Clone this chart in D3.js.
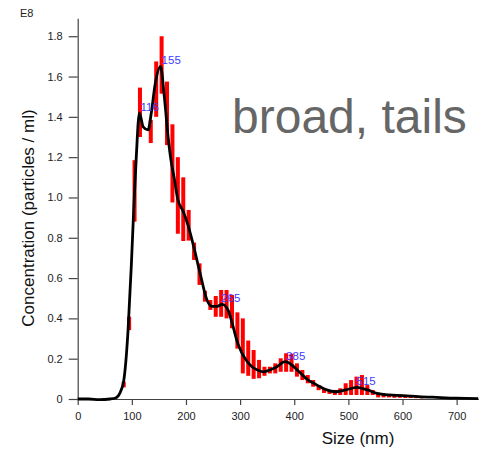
<!DOCTYPE html>
<html>
<head>
<meta charset="utf-8">
<script src="https://cdn.jsdelivr.net/npm/d3@7/dist/d3.min.js"></script>
<style>
  body { margin: 0; background: #fff; }
  svg { font-family: 'Liberation Sans', Arial, sans-serif; }
</style>
</head>
<body>
<svg id="chart" width="487" height="455"></svg>
<script>
// bin centres (nm) and red bar ranges (x1e8 particles / ml)
var binSize = [85, 95, 105, 115, 125, 135, 145, 155, 165, 175, 185, 195, 205, 215, 225, 235, 245, 255,
  265, 275, 285, 295, 305, 315, 325, 335, 345, 355, 365, 375, 385, 395, 405, 415, 425, 435, 445, 455,
  465, 475, 485, 495, 505, 515, 525, 535, 545, 555, 565, 575, 585, 595, 605, 615, 625, 635]
var barLow = [0.058, 0.342, 0.88, 1.30, 1.34, 1.27, 1.40, 1.515, 1.26, 0.975, 0.82, 0.784, 0.786, 0.69, 0.566, 0.483, 0.442, 0.408,
  0.408, 0.40, 0.351, 0.25, 0.127, 0.115, 0.10, 0.103, 0.115, 0.127, 0.127, 0.135, 0.135, 0.135, 0.111, 0.094, 0.078, 0.061, 0.044, 0.03,
  0.025, 0.02, 0.02, 0.02, 0.02, 0.02, 0.02, 0.02, 0.02, 0.008, 0.008, 0.008, 0.006, 0.006, 0.005, 0.005, 0.004, 0.003]
var barHigh = [0.086, 0.408, 1.185, 1.545, 1.34, 1.385, 1.675, 1.80, 1.575, 1.363, 1.20, 1.10, 0.938, 0.776, 0.673, 0.537, 0.491, 0.511,
  0.541, 0.541, 0.516, 0.43, 0.40, 0.29, 0.243, 0.194, 0.16, 0.16, 0.177, 0.202, 0.227, 0.225, 0.177, 0.144, 0.119, 0.094, 0.069, 0.05,
  0.04, 0.045, 0.053, 0.078, 0.094, 0.111, 0.119, 0.069, 0.045, 0.03, 0.025, 0.022, 0.022, 0.02, 0.02, 0.018, 0.015, 0.01]

// black mean curve
var curveSize = [0, 20, 40, 60, 70, 78, 85, 93, 99, 104, 108, 114, 121, 130, 136, 143, 153, 160, 167, 172, 178, 185,
  195, 204, 213, 226, 239, 248, 258, 267, 278, 286, 294, 303, 312, 322, 331, 343, 356, 368, 383, 395, 405, 411,
  425, 435, 447, 460, 476, 495, 516, 535, 553, 575, 601, 630, 663, 700, 740]
var curveConc = [0, 0, -0.003, 0, 0.005, 0.03, 0.09, 0.34, 0.66, 0.97, 1.19, 1.42, 1.35, 1.335, 1.42, 1.56, 1.65, 1.5, 1.3, 1.19, 1.1, 0.99,
  0.93, 0.86, 0.77, 0.625, 0.49, 0.46, 0.46, 0.47, 0.44, 0.37, 0.29, 0.23, 0.19, 0.16, 0.145, 0.135, 0.145, 0.16, 0.185, 0.17, 0.145, 0.13,
  0.095, 0.08, 0.062, 0.045, 0.036, 0.045, 0.058, 0.045, 0.028, 0.02, 0.017, 0.012, 0.008, 0.004, 0.002]

var peakSize = [116, 155, 265, 385, 515]
var peakConc = [1.42, 1.65, 0.47, 0.185, 0.058]

var xTicks = [0, 100, 200, 300, 400, 500, 600, 700]
var yTicks = [0, 0.2, 0.4, 0.6, 0.8, 1.0, 1.2, 1.4, 1.6, 1.8]

var svg = d3.select('#chart')

var x = d3.scaleLinear().domain([0, 740]).range([77.7, 478.3])
var y = d3.scaleLinear().domain([0, 1.889]).range([399, 18.3])

var xAxis = d3.axisBottom(x).tickValues(xTicks).tickSize(6).tickSizeOuter(0).tickPadding(7)
var yAxis = d3.axisLeft(y).tickValues(yTicks).tickSize(9).tickSizeOuter(0).tickPadding(6)
  .tickFormat(d => d === 0 ? '0' : d.toFixed(1))

svg.append('g')
    .attr('class', 'x axis')
    .attr('transform', 'translate(0,399)')
    .call(xAxis)

svg.append('g')
    .attr('class', 'y axis')
    .attr('transform', 'translate(77.7,0)')
    .call(yAxis)

svg.selectAll('.axis path, .axis line').attr('stroke', '#444').attr('stroke-width', 1.2)
svg.selectAll('.axis text').attr('fill', '#222').style('font-size', '11px')

// red bars
var bars = binSize.map((s, i) => ({ size: s, lo: barLow[i], hi: barHigh[i] }))
svg.selectAll('.bar')
    .data(bars)
  .enter().append('rect')
    .attr('class', 'bar')
    .attr('x', d => x(d.size) - 2)
    .attr('width', 4)
    .attr('y', d => y(d.hi))
    .attr('height', d => y(d.lo) - y(d.hi))
    .attr('fill', '#ff0000')

// mean curve
var pts = curveSize.map((s, i) => [s, curveConc[i]])
var line = d3.line()
    .x(d => x(d[0]))
    .y(d => y(d[1]))
    .curve(d3.curveMonotoneX)

svg.append('path')
    .datum(pts)
    .attr('d', line)
    .attr('fill', 'none')
    .attr('stroke', '#000')
    .attr('stroke-width', 2.8)
    .attr('stroke-linejoin', 'round')

// peak labels
svg.selectAll('.peak')
    .data(peakSize)
  .enter().append('text')
    .attr('class', 'peak')
    .attr('x', d => x(d))
    .attr('y', (d, i) => y(peakConc[i]) - 2)
    .attr('fill', '#3c3cff')
    .style('font-size', '11.5px')
    .text(d => d)

svg.append('text')
    .attr('x', 20)
    .attr('y', 17)
    .attr('fill', '#222')
    .style('font-size', '11px')
    .text('E8')

svg.append('text')
    .attr('transform', 'translate(34,218) rotate(-90)')
    .attr('text-anchor', 'middle')
    .attr('fill', '#111')
    .style('font-size', '17px')
    .text('Concentration (particles / ml)')

svg.append('text')
    .attr('x', 358)
    .attr('y', 444)
    .attr('text-anchor', 'middle')
    .attr('fill', '#111')
    .style('font-size', '17px')
    .text('Size (nm)')

svg.append('text')
    .attr('x', 232)
    .attr('y', 133)
    .attr('fill', '#666')
    .style('font-size', '48px')
    .text('broad, tails')
</script>
</body>
</html>
